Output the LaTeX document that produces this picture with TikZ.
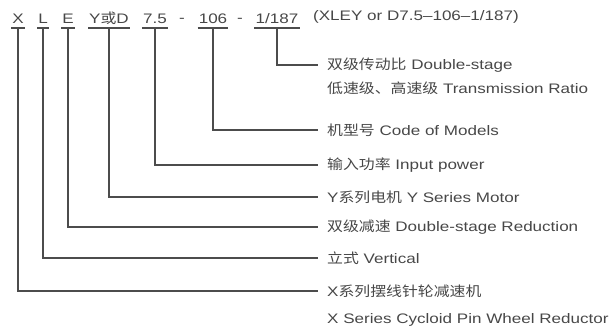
\documentclass[tikz,border=0pt]{standalone}
\usepackage{fontspec}
\setmainfont{Liberation Sans}[FakeStretch=1.235]
\newfontfamily\cjk{Noto Sans CJK SC}[FakeStretch=1.15]
\begin{document}
\begin{tikzpicture}[x=1pt,y=-1pt,
  txt/.style={text=black!72, font=\fontsize{13.8}{16}\selectfont},
  token/.style={txt, anchor=south, inner xsep=1pt, inner ysep=4.5pt, text depth=0pt},
  lab/.style={txt, anchor=west, inner xsep=0pt, inner ysep=0pt},
  conn/.style={draw=black!70, line width=1.2pt},
  uline/.style={draw=black!70, line width=1.3pt}]
\useasboundingbox (0,0) rectangle (611,329);
% top tokens
\node[token] (tX) at (18,28) {X};
\node[token] (tL) at (43,28) {L};
\node[token] (tE) at (68,28) {E};
\node[token] (tY) at (109,28) {Y{\cjk 或}D};
\node[token] (t7) at (155,28) {7.5};
\node[txt, anchor=base] (d1) at (182,23) {-};
\node[token] (t106) at (213,28) {106};
\node[txt, anchor=base] (d2) at (240,23) {-};
\node[token] (t187) at (277,28) {1/187};
\node[txt, anchor=west, inner sep=0pt] (alt) at (313,17) {(XLEY or D7.5–106–1/187)};
% underlines
\foreach \t in {tX,tL,tE,tY,t7,t106,t187}
  \draw[uline] (\t.south west) -- (\t.south east);
% labels
\node[lab] (l187) at (327,65) {{\cjk 双级传动比} Double-stage};
\node[lab] (l187b) at (327,88) {{\cjk 低速级、高速级} Transmission Ratio};
\node[lab] (l106) at (327,130) {{\cjk 机型号} Code of Models};
\node[lab] (l7) at (327,165) {{\cjk 输入功率} Input power};
\node[lab] (lY) at (327,197) {Y{\cjk 系列电机} Y Series Motor};
\node[lab] (lE) at (327,227) {{\cjk 双级减速} Double-stage Reduction};
\node[lab] (lL) at (327,258) {{\cjk 立式} Vertical};
\node[lab] (lX) at (327,291) {X{\cjk 系列摆线针轮减速机}};
\node[lab] (lXb) at (327,320) {X Series Cycloid Pin Wheel Reductor};
% connectors
\foreach \a/\b in {t187/l187,t106/l106,t7/l7,tY/lY,tE/lE,tL/lL,tX/lX}
  \draw[conn] (\a.south) |- ([xshift=-9pt]\b.west);
\end{tikzpicture}
\end{document}
